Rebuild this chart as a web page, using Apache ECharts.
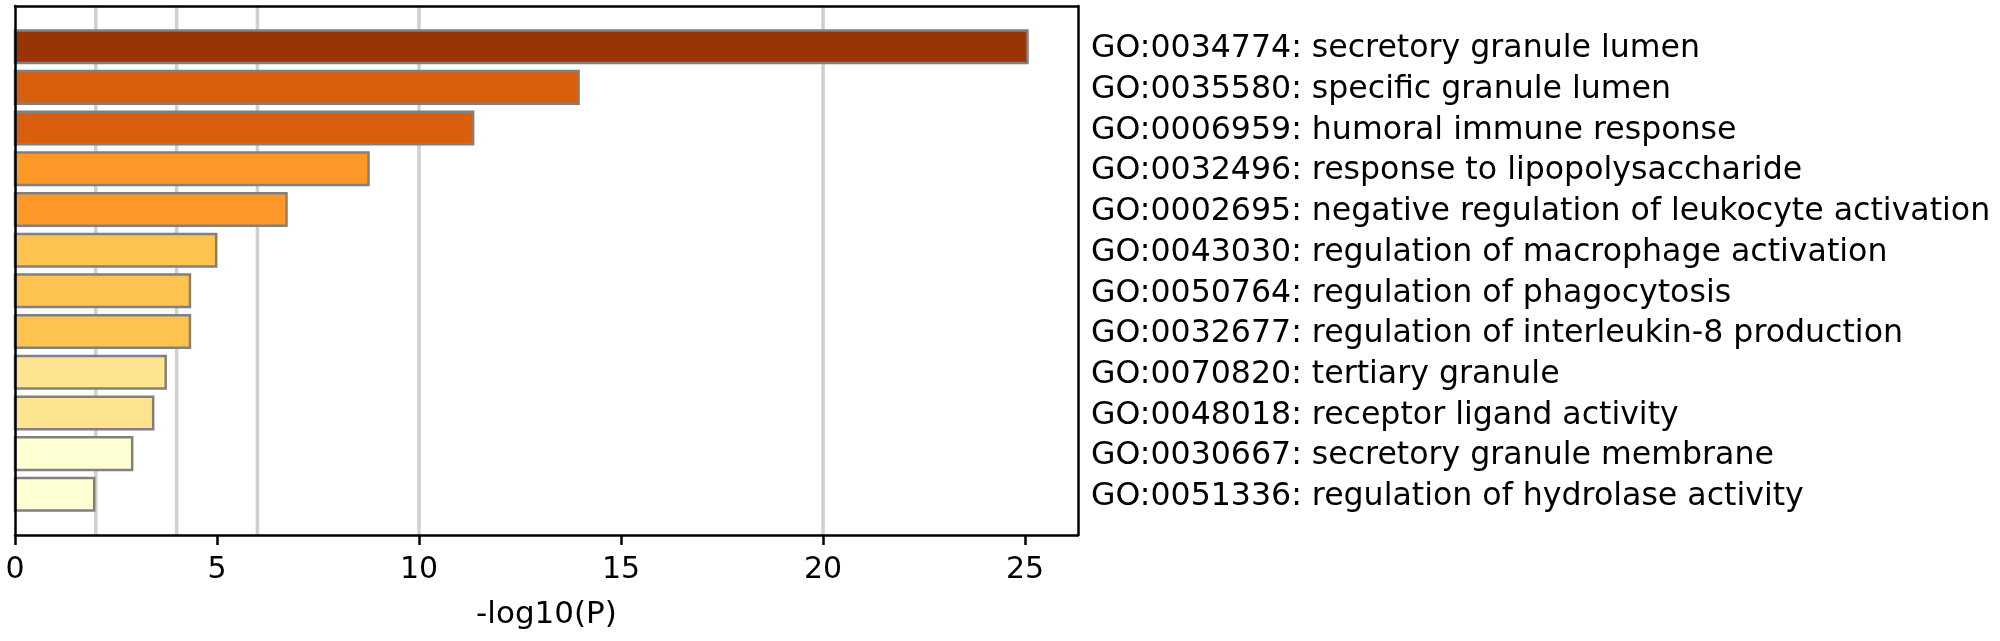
<!DOCTYPE html>
<html>
<head>
<meta charset="utf-8">
<title>GO enrichment</title>
<script src="https://cdn.jsdelivr.net/npm/echarts@6/dist/echarts.min.js"></script>
<style>
    html, body { margin: 0; padding: 0; background: #fff; }
    #chart { width: 2000px; height: 641px; }
</style>
</head>
<body>
<div id="chart"></div>
<script>
  // GO terms, top to bottom
  var termIds = ['GO:0034774', 'GO:0035580', 'GO:0006959', 'GO:0032496', 'GO:0002695', 'GO:0043030',
    'GO:0050764', 'GO:0032677', 'GO:0070820', 'GO:0048018', 'GO:0030667', 'GO:0051336'];
  var termNames = ['secretory granule lumen', 'specific granule lumen', 'humoral immune response',
    'response to lipopolysaccharide', 'negative regulation of leukocyte activation',
    'regulation of macrophage activation', 'regulation of phagocytosis',
    'regulation of interleukin-8 production', 'tertiary granule', 'receptor ligand activity',
    'secretory granule membrane', 'regulation of hydrolase activity'];
  var logP = [25.06, 13.95, 11.34, 8.75, 6.72, 4.98, 4.33, 4.33, 3.73, 3.42, 2.90, 1.96];
  var guideValues = [2, 4, 6, 10, 20];
  var xTicks = [0, 5, 10, 15, 20, 25];
  var xMax = 26.31;

  var barColors = ['#993404', '#d95f0e', '#d95f0e', '#fe9929', '#fe9929', '#fec44f',
    '#fec44f', '#fec44f', '#fee391', '#fee391', '#ffffd4', '#ffffd4'];
  var font = 'DejaVu Sans';

  var chart = echarts.init(document.getElementById('chart'));

  var lineOnly = {
    show: true,
    onZero: false,
    lineStyle: {color: '#000', width: 2.5}
  };

  chart.setOption({
    animation: false,
    grid: {left: 15, right: 922, top: 6, bottom: 106, outerBoundsMode: 'none'},
    xAxis: [
      {
        type: 'value',
        position: 'bottom',
        min: 0,
        max: xMax,
        z: 10,
        name: '-log10(P)',
        nameLocation: 'middle',
        nameGap: 64,
        nameTextStyle: {fontFamily: font, fontSize: 31, color: '#000'},
        axisLine: lineOnly,
        axisTick: {show: true, length: 10, customValues: xTicks, lineStyle: {color: '#000', width: 2.5}},
        axisLabel: {
          customValues: xTicks,
          margin: 20,
          fontFamily: font,
          fontSize: 30,
          color: '#000'
        },
        splitLine: {show: false}
      },
      {
        type: 'value',
        position: 'top',
        min: 0,
        max: xMax,
        z: 10,
        axisLine: lineOnly,
        axisTick: {show: false},
        axisLabel: {show: false},
        splitLine: {show: false}
      }
    ],
    yAxis: [
      {
        type: 'value',
        position: 'left',
        min: -1,
        max: 12,
        interval: 1,
        inverse: true,
        z: 10,
        axisLine: lineOnly,
        axisTick: {show: false},
        axisLabel: {show: false},
        splitLine: {show: false}
      },
      {
        type: 'value',
        position: 'right',
        min: -1,
        max: 12,
        interval: 1,
        inverse: true,
        z: 10,
        axisLine: lineOnly,
        axisTick: {show: false},
        axisLabel: {
          margin: 13,
          verticalAlign: 'top',
          lineHeight: 5,
          fontFamily: font,
          fontSize: 31.6,
          color: '#000',
          formatter: function (v) {
            return (v >= 0 && v < termIds.length) ? termIds[v] + ': ' + termNames[v] : '';
          }
        },
        splitLine: {show: false}
      }
    ],
    series: [
      {
        // light vertical guide lines behind the bars
        type: 'custom',
        z: 1,
        silent: true,
        data: guideValues.map(function (v) { return [v]; }),
        encode: {x: 0},
        renderItem: function (params, api) {
          var p = api.coord([api.value(0), 0]);
          var cs = params.coordSys;
          return {
            type: 'line',
            shape: {x1: p[0], y1: cs.y, x2: p[0], y2: cs.y + cs.height},
            style: {stroke: '#d0d0d0', lineWidth: 3.5}
          };
        }
      },
      {
        type: 'custom',
        z: 2,
        data: logP.map(function (v, i) { return [v, i]; }),
        encode: {x: 0, y: 1},
        renderItem: function (params, api) {
          var start = api.coord([0, api.value(1)]);
          var end = api.coord([api.value(0), api.value(1)]);
          var h = api.size([0, 1])[1] * 0.8;
          return {
            type: 'rect',
            shape: {x: start[0], y: start[1] - h / 2, width: end[0] - start[0], height: h},
            style: {fill: barColors[params.dataIndex], stroke: '#808080', lineWidth: 2.5}
          };
        }
      }
    ]
  });
</script>
</body>
</html>
